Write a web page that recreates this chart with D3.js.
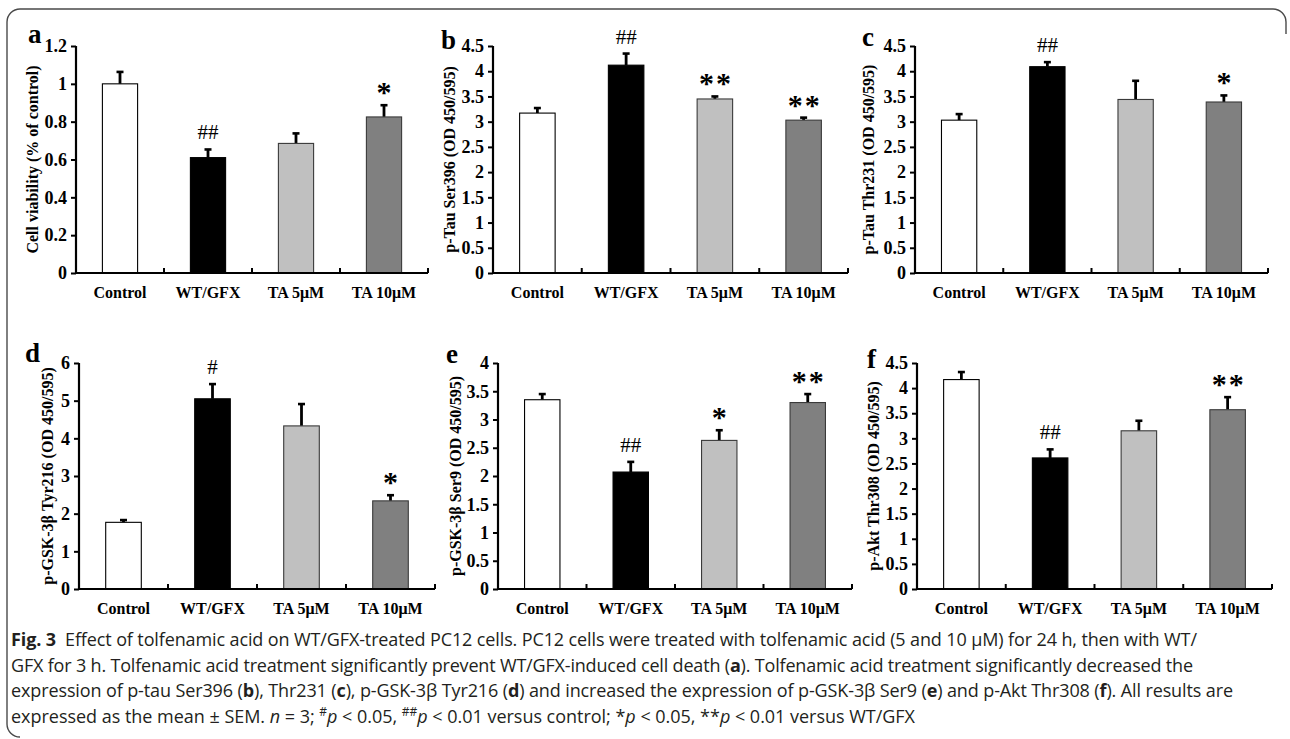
<!DOCTYPE html>
<html>
<head>
<meta charset="utf-8">
<script src="https://cdn.jsdelivr.net/npm/d3@7"></script>
<style>
  body { margin: 0; background: #fff; }
  svg { display: block; }
</style>
</head>
<body>
<div id="fig"></div>
<script>

var width = 1290;
var height = 739;

// groups on the x axis
var categories = ["Control", "WT/GFX", "TA 5μM", "TA 10μM"];

// a - cell viability
var viability = [1.0, 0.61, 0.685, 0.825];
var viabilityErr = [0.063, 0.043, 0.053, 0.062];
var viabilityMarks = ["", "##", "", "*"];
var viabilityTicks = [0, 0.2, 0.4, 0.6, 0.8, 1, 1.2];

// b - p-Tau Ser396
var tauSer = [3.17, 4.12, 3.45, 3.03];
var tauSerErr = [0.10, 0.23, 0.05, 0.05];
var tauSerMarks = ["", "##", "**", "**"];

// c - p-Tau Thr231
var tauThr = [3.03, 4.09, 3.44, 3.39];
var tauThrErr = [0.12, 0.09, 0.37, 0.13];
var tauThrMarks = ["", "##", "", "*"];

var ticks45 = [0, 0.5, 1, 1.5, 2, 2.5, 3, 3.5, 4, 4.5];

// d - p-GSK-3b Tyr216
var gskTyr = [1.77, 5.05, 4.33, 2.34];
var gskTyrErr = [0.06, 0.39, 0.58, 0.15];
var gskTyrMarks = ["", "#", "", "*"];
var gskTyrTicks = [0, 1, 2, 3, 4, 5, 6];

// e - p-GSK-3b Ser9
var gskSer = [3.35, 2.07, 2.63, 3.30];
var gskSerErr = [0.10, 0.18, 0.18, 0.15];
var gskSerMarks = ["", "##", "*", "**"];
var gskSerTicks = [0, 0.5, 1, 1.5, 2, 2.5, 3, 3.5, 4];

// f - p-Akt Thr308
var aktThr = [4.17, 2.61, 3.15, 3.57];
var aktThrErr = [0.15, 0.17, 0.20, 0.25];
var aktThrMarks = ["", "##", "", "**"];

var fills = ["#ffffff", "#000000", "#c0c0c0", "#808080"];
var strokes = ["#000000", "#000000", "#3a3a3a", "#3a3a3a"];

var panels = [
  {letter: "a", values: viability, errors: viabilityErr, marks: viabilityMarks, ticks: viabilityTicks, title: "Cell viability (% of control)"},
  {letter: "b", values: tauSer, errors: tauSerErr, marks: tauSerMarks, ticks: ticks45, title: "p-Tau Ser396 (OD 450/595)"},
  {letter: "c", values: tauThr, errors: tauThrErr, marks: tauThrMarks, ticks: ticks45, title: "p-Tau Thr231 (OD 450/595)"},
  {letter: "d", values: gskTyr, errors: gskTyrErr, marks: gskTyrMarks, ticks: gskTyrTicks, title: "p-GSK-3β Tyr216 (OD 450/595)"},
  {letter: "e", values: gskSer, errors: gskSerErr, marks: gskSerMarks, ticks: gskSerTicks, title: "p-GSK-3β Ser9 (OD 450/595)"},
  {letter: "f", values: aktThr, errors: aktThrErr, marks: aktThrMarks, ticks: ticks45, title: "p-Akt Thr308 (OD 450/595)"}
];

// where each panel sits on the page
var layout = [
  {x0: 76,  x1: 428,  top: 46,  base: 273, titleX: 38,  lx: 28,  ly: 43},
  {x0: 493, x1: 848,  top: 46,  base: 273, titleX: 455, lx: 441, ly: 49},
  {x0: 915, x1: 1268, top: 46,  base: 273, titleX: 874, lx: 862, ly: 46},
  {x0: 79,  x1: 435,  top: 363, base: 589, titleX: 53,  lx: 25,  ly: 362},
  {x0: 498, x1: 852,  top: 363, base: 589, titleX: 461, lx: 446, ly: 363},
  {x0: 917, x1: 1272, top: 363, base: 589, titleX: 879, lx: 867, ly: 368}
];

var serif = "'Liberation Serif', 'Times New Roman', serif";

var svg = d3.select("#fig")
    .append("svg")
    .attr("width", width)
    .attr("height", height);

// rounded frame round the figure
svg.append("path")
    .attr("d", "M1286,34 V22 A13,13 0 0 0 1273,9 H20 A13,13 0 0 0 7,22 V724 A13,13 0 0 0 20,737")
    .attr("fill", "none")
    .attr("stroke", "#4a4a4a")
    .attr("stroke-width", 1.4);

panels.forEach(function(p, i) {
  var L = layout[i];
  var g = svg.append("g");

  var x = d3.scaleBand()
      .domain(categories)
      .range([L.x0, L.x1])
      .paddingInner(0.6)
      .paddingOuter(0.3);

  var y = d3.scaleLinear()
      .domain([0, p.ticks[p.ticks.length - 1]])
      .range([L.base, L.top]);

  var rows = categories.map(function(c, j) {
    return {cat: c, v: p.values[j], e: p.errors[j], m: p.marks[j], j: j};
  });

  // error bars go behind the bar tops
  g.selectAll(".err")
    .data(rows)
    .enter().append("line")
      .attr("x1", function(d) { return x(d.cat) + x.bandwidth() / 2; })
      .attr("x2", function(d) { return x(d.cat) + x.bandwidth() / 2; })
      .attr("y1", function(d) { return y(d.v); })
      .attr("y2", function(d) { return y(d.v + d.e); })
      .attr("stroke", "#000")
      .attr("stroke-width", 2.8);

  g.selectAll(".cap")
    .data(rows)
    .enter().append("line")
      .attr("x1", function(d) { return x(d.cat) + x.bandwidth() / 2 - 3.5; })
      .attr("x2", function(d) { return x(d.cat) + x.bandwidth() / 2 + 3.5; })
      .attr("y1", function(d) { return y(d.v + d.e); })
      .attr("y2", function(d) { return y(d.v + d.e); })
      .attr("stroke", "#000")
      .attr("stroke-width", 2.6);

  g.selectAll(".bar")
    .data(rows)
    .enter().append("rect")
      .attr("x", function(d) { return x(d.cat); })
      .attr("y", function(d) { return y(d.v); })
      .attr("width", x.bandwidth())
      .attr("height", function(d) { return y(0) - y(d.v); })
      .attr("fill", function(d) { return fills[d.j]; })
      .attr("stroke", function(d) { return strokes[d.j]; })
      .attr("stroke-width", 1.1);

  // significance marks
  g.selectAll(".mark")
    .data(rows.filter(function(d) { return d.m; }))
    .enter().append("text")
      .attr("x", function(d) { return x(d.cat) + x.bandwidth() / 2 + (d.m == "**" ? 1 : 0); })
      .attr("y", function(d) {
        var top = y(d.v + d.e);
        return d.m.charAt(0) == "#" ? top - 10 : top - 3;
      })
      .attr("text-anchor", "middle")
      .attr("font-family", serif)
      .attr("font-weight", function(d) { return d.m.charAt(0) == "#" ? "normal" : "bold"; })
      .attr("font-size", function(d) { return d.m.charAt(0) == "#" ? 21 : 30; })
      .attr("letter-spacing", function(d) { return d.m == "**" ? 2 : 0; })
      .text(function(d) { return d.m; });

  // y axis
  var yAxis = d3.axisLeft(y)
      .tickValues(p.ticks)
      .tickSize(5)
      .tickPadding(4)
      .tickFormat(d3.format("~g"));

  var ya = g.append("g")
      .attr("transform", "translate(" + L.x0 + ",0)")
      .call(yAxis);
  ya.select(".domain").attr("d", "M0," + L.top + "V" + L.base).attr("stroke-width", 2.2);
  ya.selectAll(".tick line").attr("stroke-width", 2);
  ya.selectAll(".tick text")
      .attr("font-family", serif)
      .attr("font-weight", "bold")
      .attr("font-size", 18)
      .attr("fill", "#000");

  // x axis with inside ticks at group boundaries
  var bounds = d3.range(categories.length + 1).map(function(k) {
    return L.x0 + k * x.step();
  });
  g.append("line")
      .attr("x1", L.x0 - 1)
      .attr("x2", L.x1)
      .attr("y1", L.base)
      .attr("y2", L.base)
      .attr("stroke", "#000")
      .attr("stroke-width", 2.2);
  g.selectAll(".xtick")
    .data(bounds.slice(1))
    .enter().append("line")
      .attr("x1", function(d) { return d; })
      .attr("x2", function(d) { return d; })
      .attr("y1", L.base)
      .attr("y2", L.base - 5)
      .attr("stroke", "#000")
      .attr("stroke-width", 2);

  g.selectAll(".xlab")
    .data(categories)
    .enter().append("text")
      .attr("x", function(d) { return x(d) + x.bandwidth() / 2; })
      .attr("y", L.base + 25)
      .attr("text-anchor", "middle")
      .attr("font-family", serif)
      .attr("font-weight", "bold")
      .attr("font-size", 16)
      .text(function(d) { return d; });

  g.append("text")
      .attr("transform", "translate(" + L.titleX + "," + ((L.top + L.base) / 2) + ") rotate(-90)")
      .attr("text-anchor", "middle")
      .attr("font-family", serif)
      .attr("font-weight", "bold")
      .attr("font-size", 16)
      .text(p.title);

  g.append("text")
      .attr("x", L.lx)
      .attr("y", L.ly)
      .attr("font-family", serif)
      .attr("font-weight", "bold")
      .attr("font-size", 27)
      .text(p.letter);
});

// caption, one text per line, pieces: [text, style]
var captionLines = [
  [["Fig. 3", "b"], ["  Effect of tolfenamic acid on WT/GFX-treated PC12 cells. PC12 cells were treated with tolfenamic acid (5 and 10 μM) for 24 h, then with WT/", ""]],
  [["GFX for 3 h. Tolfenamic acid treatment significantly prevent WT/GFX-induced cell death (", ""], ["a", "b"], ["). Tolfenamic acid treatment significantly decreased the", ""]],
  [["expression of p-tau Ser396 (", ""], ["b", "b"], ["), Thr231 (", ""], ["c", "b"], ["), p-GSK-3β Tyr216 (", ""], ["d", "b"], [") and increased the expression of p-GSK-3β Ser9 (", ""], ["e", "b"], [") and p-Akt Thr308 (", ""], ["f", "b"], ["). All results are", ""]],
  [["expressed as the mean ± SEM. ", ""], ["n", "i"], [" = 3; ", ""], ["#", "s"], ["p", "ip"], [" < 0.05, ", ""], ["##", "s"], ["p", "ip"], [" < 0.01 versus control; *", ""], ["p", "i"], [" < 0.05, **", ""], ["p", "i"], [" < 0.01 versus WT/GFX", ""]]
];
var captionEnds = [1197, 1193, 1233, 915];

captionLines.forEach(function(line, i) {
  var t = svg.append("text")
      .attr("x", 11)
      .attr("y", 646 + i * 25.7)
      .attr("font-family", "'Open Sans', sans-serif")
      .attr("font-size", 18)
      .attr("fill", "#231f20")
      .attr("xml:space", "preserve");
  line.forEach(function(piece) {
    var s = t.append("tspan").text(piece[0]);
    if (piece[1] == "b") s.attr("font-weight", "bold");
    if (piece[1] == "i" || piece[1] == "ip") s.attr("font-style", "italic");
    if (piece[1] == "s") s.attr("font-size", 12).attr("dy", -7);
    if (piece[1] == "ip") s.attr("dy", 7);
  });
  // stretch spacing so the line ends where the reference line ends
  var natural = t.node().getComputedTextLength();
  var chars = t.text().length;
  t.attr("letter-spacing", (captionEnds[i] - 11 - natural) / (chars - 1));
});

</script>
</body>
</html>
